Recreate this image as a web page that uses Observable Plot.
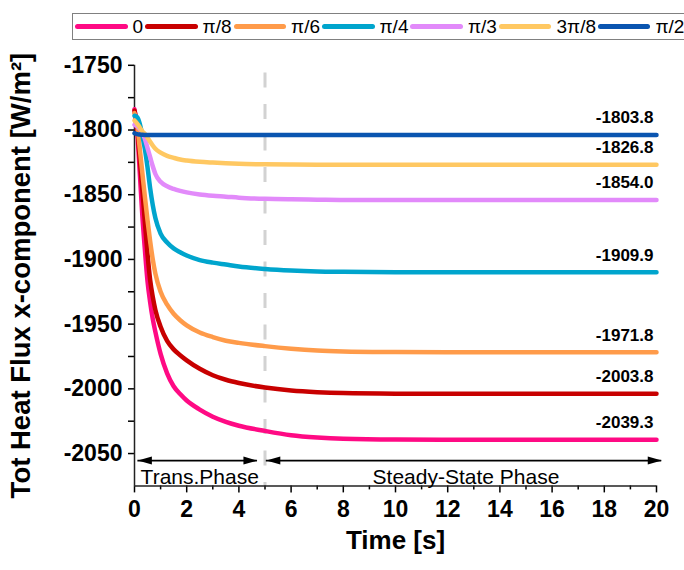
<!DOCTYPE html>
<html>
<head>
<meta charset="utf-8">
<script src="https://cdn.jsdelivr.net/npm/d3@7"></script>
<script src="https://cdn.jsdelivr.net/npm/@observablehq/plot@0.6"></script>
<style>
  body { margin: 0; background: #fff; font-family: "Liberation Sans", Arial, sans-serif; }
  #wrap { position: relative; width: 684px; height: 570px; overflow: hidden; }
  #legend {
    position: absolute; left: 72px; top: 13px; width: 660px; height: 27px;
    border: 1px solid #808080; box-sizing: border-box;
    display: flex; align-items: center; padding-left: 2px; background: #fff;
  }
  .item { display: flex; align-items: center; }
  .sw { width: 52.5px; height: 5px; border-radius: 3px; }
  .lb { font-size: 19px; margin: 0 2px 0 5px; color: #000; line-height: 1; }
</style>
</head>
<body>
<div id="wrap">
  <div id="chart"></div>
  <div id="legend"></div>
</div>
<script>
// Inclination angle of each case (legend order)
const angles = ["0", "π/8", "π/6", "π/4", "π/3", "3π/8", "π/2"];
const colors = ["#FF0A84", "#C80000", "#FF9B4A", "#00A5CD", "#E28AFA", "#FFC862", "#0A55B0"];

// Sample times [s]
const time = [0, 0.1, 0.2, 0.3, 0.4, 0.5, 0.6, 0.7, 0.8, 1.0, 1.25, 1.5, 1.75, 2, 2.5, 3, 3.5, 4, 5, 6, 7, 8, 10, 12, 14, 16, 18, 20];

// Total heat flux, x-component [W/m²], one array per angle
const flux0    = [-1784, -1800, -1832, -1866, -1893, -1917, -1933, -1946, -1956, -1973, -1988, -1998, -2004, -2009, -2016, -2021.5, -2025.5, -2028.5, -2032.5, -2035.8, -2037.6, -2038.6, -2039.2, -2039.3, -2039.3, -2039.3, -2039.3, -2039.3];
const fluxPi8  = [-1785, -1797, -1822, -1846, -1872, -1896, -1916, -1929, -1939, -1952, -1963, -1969.5, -1974, -1978, -1984.5, -1989.5, -1993, -1995.5, -1999, -2001.3, -2002.6, -2003.3, -2003.7, -2003.8, -2003.8, -2003.8, -2003.8, -2003.8];
const fluxPi6  = [-1787, -1795, -1814, -1833, -1852, -1870, -1886, -1900, -1911, -1925, -1935, -1942, -1947, -1951, -1956.5, -1960, -1962.8, -1964.5, -1967, -1969, -1970.4, -1971.1, -1971.6, -1971.8, -1971.8, -1971.8, -1971.8, -1971.8];
const fluxPi4  = [-1789, -1790, -1795, -1804, -1815, -1829, -1845, -1858, -1868, -1880, -1887, -1891.5, -1894.5, -1897, -1900.5, -1902.5, -1904, -1905.5, -1907.4, -1908.6, -1909.3, -1909.6, -1909.9, -1909.9, -1909.9, -1909.9, -1909.9, -1909.9];
const fluxPi3  = [-1796, -1797, -1799, -1802, -1807, -1814, -1821, -1828, -1834, -1840, -1843.5, -1845.5, -1847, -1848.2, -1849.8, -1850.8, -1851.5, -1852.3, -1853.2, -1853.6, -1853.8, -1854, -1854, -1854, -1854, -1854, -1854, -1854];
const flux3Pi8 = [-1792.7, -1795, -1798, -1801, -1803, -1806, -1809, -1812, -1814.5, -1817.5, -1820, -1821.5, -1822.8, -1823.6, -1824.6, -1825.2, -1825.7, -1826.1, -1826.5, -1826.7, -1826.8, -1826.8, -1826.8, -1826.8, -1826.8, -1826.8, -1826.8, -1826.8];
const fluxPi2  = [-1802.5, -1803.2, -1803.5, -1803.7, -1803.8, -1803.8, -1803.8, -1803.8, -1803.8, -1803.8, -1803.8, -1803.8, -1803.8, -1803.8, -1803.8, -1803.8, -1803.8, -1803.8, -1803.8, -1803.8, -1803.8, -1803.8, -1803.8, -1803.8, -1803.8, -1803.8, -1803.8, -1803.8];

// Steady-state values printed at the end of each curve
const steadyValues = [-2039.3, -2003.8, -1971.8, -1909.9, -1854.0, -1826.8, -1803.8];

// Axis ticks
const yMajorTicks = [-1750, -1800, -1850, -1900, -1950, -2000, -2050];
const yMinorTicks = [-1775, -1825, -1875, -1925, -1975, -2025];
const xMajorTicks = [0, 2, 4, 6, 8, 10, 12, 14, 16, 18, 20];
const xMinorTicks = [1, 3, 5, 7, 9, 11, 13, 15, 17, 19];

// Phase annotations
const phaseBoundary = 5;
const phases = [
  { label: "Trans.Phase", start: 0.13, end: 4.71, mid: 2.5 },
  { label: "Steady-State Phase", start: 5.05, end: 20.2, mid: 12.7 }
];
const phaseArrowLevel = -2055.4;

const series = [flux0, fluxPi8, fluxPi6, fluxPi4, fluxPi3, flux3Pi8, fluxPi2];
const rows = series.flatMap((vals, i) => vals.map((v, j) => ({ angle: angles[i], t: time[j], v })));
const tEnd = time[time.length - 1];
const endLabels = steadyValues.map((v, i) => ({ angle: angles[i], t: tEnd, v }));

// Filled, elongated arrowhead pointing along +x
const arrowHead = {
  draw(ctx) {
    ctx.moveTo(0, 0);
    ctx.lineTo(-14, -4);
    ctx.lineTo(-14, 4);
    ctx.closePath();
  }
};
const heads = phases.flatMap(p => [
  { t: p.start, rot: 180 },
  { t: p.end, rot: 0 }
]);

const font = '"Liberation Sans", Arial, sans-serif';
const fmt = d => String(d);

const chart = Plot.plot({
  width: 684,
  height: 570,
  marginLeft: 134,
  marginRight: 28,
  marginTop: 64.8,
  marginBottom: 84.6,
  style: { fontFamily: font, background: "transparent", color: "#000" },
  x: { domain: [0, 20] },
  y: { domain: [-2075, -1750] },
  color: { domain: angles, range: colors },
  marks: [
    // boundary between transient and steady phase
    Plot.ruleX([phaseBoundary], { y1: -1756, y2: -2075, stroke: "#d2d2d2", strokeWidth: 3, strokeDasharray: "15,16.5" }),

    // axes
    Plot.axisY(yMajorTicks, { tickSize: 6, tickPadding: 6, fontSize: 23, fontWeight: "bold", tickFormat: fmt, strokeWidth: 1.5, label: null }),
    Plot.axisY(yMinorTicks, { tickSize: 6, text: null, strokeWidth: 1.5, label: null }),
    Plot.axisX(xMajorTicks, { tickSize: 7, tickPadding: 8, fontSize: 23, fontWeight: "bold", tickFormat: fmt, strokeWidth: 1.5, label: null }),
    Plot.axisX(xMinorTicks, { tickSize: 4, text: null, strokeWidth: 1.5, label: null }),
    Plot.ruleX([0], { stroke: "#222", strokeWidth: 1.5 }),
    Plot.ruleY([-2075], { stroke: "#222", strokeWidth: 1.5 }),

    // axis titles
    Plot.text(["Tot Heat Flux x-component [W/m²]"], { frameAnchor: "left", textAnchor: "middle", dx: -113, rotate: -90, fontSize: 27.5, fontWeight: "bold", fill: "#000" }),
    Plot.text(["Time [s]"], { frameAnchor: "bottom", dy: 63, fontSize: 26, fontWeight: "bold", fill: "#000" }),

    // phase arrows and labels
    Plot.ruleY(phases, { y: () => phaseArrowLevel, x1: "start", x2: "end", stroke: "#000", strokeWidth: 1.8 }),
    Plot.dot(heads, { x: "t", y: () => phaseArrowLevel, symbol: arrowHead, rotate: "rot", fill: "#000", stroke: "none", r: 5 }),
    Plot.text(phases, { x: "mid", y: () => phaseArrowLevel, text: "label", dy: 17, fontSize: 21, fontWeight: "normal", fill: "#000" }),

    // heat flux curves
    Plot.line(rows, { x: "t", y: "v", z: "angle", stroke: "angle", strokeWidth: 4.5, curve: "monotone-x", strokeLinecap: "round" }),

    // steady-state value labels
    Plot.text(endLabels, { x: "t", y: "v", text: d => d.v.toFixed(1), textAnchor: "end", dx: -3, dy: -17, fontSize: 17, fontWeight: "bold", fill: "#000" })
  ]
});
document.getElementById("chart").appendChild(chart);

// legend
const legend = document.getElementById("legend");
angles.forEach((a, i) => {
  const item = document.createElement("div");
  item.className = "item";
  const sw = document.createElement("div");
  sw.className = "sw";
  sw.style.background = colors[i];
  const lb = document.createElement("span");
  lb.className = "lb";
  lb.textContent = a;
  item.appendChild(sw);
  item.appendChild(lb);
  legend.appendChild(item);
});
</script>
</body>
</html>
